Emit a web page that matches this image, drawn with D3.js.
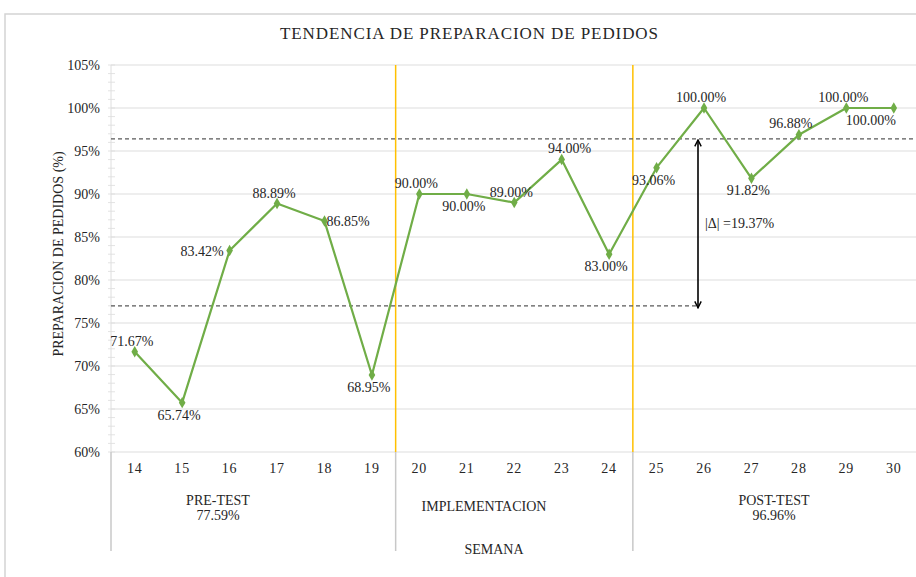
<!DOCTYPE html>
<html>
<head>
<meta http-equiv="Content-Type" content="text/html;charset=utf-8">
<script type="text/javascript" src="https://d3js.org/d3.v7.min.js"></script>
<style>
  body { margin: 0; background: #fff; }
  text { font-family: "Liberation Serif", "Times New Roman", serif; fill: #262626; }
</style>
</head>
<body>
<div id="chart"></div>
<script type="text/javascript">

// weeks and values (%)
var semanas = ["14","15","16","17","18","19","20","21","22","23","24","25","26","27","28","29","30"];
var valores = [71.67, 65.74, 83.42, 88.89, 86.85, 68.95, 90.00, 90.00, 89.00, 94.00, 83.00, 93.06, 100.00, 91.82, 96.88, 100.00, 100.00];
// where each value label sits relative to its point
var etiquetaPos = ["above","below","left","above","right","below","above","below","above","aboveright","below","below","above","below","aboveleft","above","belowleft"];

var yTicks = [60, 65, 70, 75, 80, 85, 90, 95, 100, 105];

var fases = ["PRE-TEST", "IMPLEMENTACION", "POST-TEST"];
var faseSub = ["77.59%", "", "96.96%"];
var faseInicio = [0, 6, 11];   // index of first week in phase

// reference (dashed) levels as drawn
var refAlto = 96.4;
var refBajo = 77.0;
var delta = "19.37%";

var W = 916, H = 577;
var pLeft = 111, pRight = 917.5, pTop = 65, pBottom = 452;
var fs = "14px";

var svg = d3.select("#chart").append("svg")
    .attr("width", W)
    .attr("height", H);

// outer frame
svg.append("path")
    .attr("d", "M5," + H + "V14H" + W)
    .attr("fill", "none")
    .attr("stroke", "#d4d4d4")
    .attr("stroke-width", 1.5);

var x = d3.scaleBand().domain(semanas).range([pLeft, pRight]);
var y = d3.scaleLinear().domain([60, 105]).range([pBottom, pTop]);

// minor ticks
var minor = d3.range(60, 105.01, 1);
svg.append("g").selectAll("line").data(minor).enter().append("line")
    .attr("x1", pLeft - 3).attr("x2", pLeft + 4)
    .attr("y1", function(d){ return y(d); })
    .attr("y2", function(d){ return y(d); })
    .attr("stroke", "#e3e3e3");

// gridlines
svg.append("g").selectAll("line").data(yTicks).enter().append("line")
    .attr("x1", pLeft).attr("x2", pRight)
    .attr("y1", function(d){ return y(d); })
    .attr("y2", function(d){ return y(d); })
    .attr("stroke", "#dedede")
    .attr("stroke-width", 1.2);

// y axis line
svg.append("line")
    .attr("x1", pLeft).attr("x2", pLeft)
    .attr("y1", pTop).attr("y2", pBottom)
    .attr("stroke", "#dedede");

// y tick labels
svg.append("g").selectAll("text").data(yTicks).enter().append("text")
    .attr("x", 100)
    .attr("y", function(d){ return y(d) + 5; })
    .attr("text-anchor", "end")
    .style("font-size", fs)
    .text(function(d){ return d + "%"; });

// y title
svg.append("text")
    .attr("transform", "translate(63,254) rotate(-90)")
    .attr("text-anchor", "middle")
    .style("font-size", fs)
    .text("PREPARACION DE PEDIDOS (%)");

// title
svg.append("text")
    .attr("x", 280).attr("y", 39)
    .attr("textLength", 378)
    .attr("lengthAdjust", "spacing")
    .style("font-size", "17px")
    .text("TENDENCIA DE PREPARACION DE PEDIDOS");

// phase boundaries (yellow) inside plot
var limites = faseInicio.slice(1).map(function(i){ return x(semanas[i]); });
svg.append("g").selectAll("line").data(limites).enter().append("line")
    .attr("x1", function(d){ return d; }).attr("x2", function(d){ return d; })
    .attr("y1", pTop).attr("y2", pBottom)
    .attr("stroke", "#ffc000")
    .attr("stroke-width", 1.5);

// category separators below axis
var seps = [pLeft].concat(limites);
svg.append("g").selectAll("line").data(seps).enter().append("line")
    .attr("x1", function(d){ return d; }).attr("x2", function(d){ return d; })
    .attr("y1", pBottom).attr("y2", 551)
    .attr("stroke", "#c8c8c8")
    .attr("stroke-width", 1.5);

// x tick labels
svg.append("g").selectAll("text").data(semanas).enter().append("text")
    .attr("x", function(d){ return x(d) + x.bandwidth() / 2; })
    .attr("y", 473)
    .attr("text-anchor", "middle")
    .style("font-size", fs)
    .style("letter-spacing", "0.8px")
    .text(function(d){ return d; });

// phase labels
var faseX = [218, 484, 774];
var faseY = [505, 511, 505];
fases.forEach(function(f, i){
    svg.append("text")
        .attr("x", faseX[i]).attr("y", faseY[i])
        .attr("text-anchor", "middle")
        .style("font-size", fs)
        .text(f);
    if (faseSub[i]) {
        svg.append("text")
            .attr("x", faseX[i]).attr("y", faseY[i] + 15)
            .attr("text-anchor", "middle")
            .style("font-size", fs)
            .text(faseSub[i]);
    }
});
svg.append("text")
    .attr("x", 494).attr("y", 554)
    .attr("text-anchor", "middle")
    .style("font-size", fs)
    .text("SEMANA");

// dashed reference lines
var arrowX = 698;
svg.append("line")
    .attr("x1", pLeft).attr("x2", W)
    .attr("y1", y(refAlto)).attr("y2", y(refAlto))
    .attr("stroke", "#595959").attr("stroke-width", 1.2)
    .attr("stroke-dasharray", "4,3");
svg.append("line")
    .attr("x1", pLeft).attr("x2", arrowX)
    .attr("y1", y(refBajo)).attr("y2", y(refBajo))
    .attr("stroke", "#595959").attr("stroke-width", 1.2)
    .attr("stroke-dasharray", "4,3");

// double arrow
var defs = svg.append("defs");
defs.append("marker")
    .attr("id", "ah")
    .attr("viewBox", "0 0 10 10")
    .attr("refX", 9).attr("refY", 5)
    .attr("markerWidth", 8).attr("markerHeight", 9)
    .attr("markerUnits", "userSpaceOnUse")
    .attr("orient", "auto-start-reverse")
    .append("path")
    .attr("d", "M1,1L9,5L1,9")
    .attr("fill", "none")
    .attr("stroke", "#000")
    .attr("stroke-width", 1.8);
svg.append("line")
    .attr("x1", arrowX).attr("x2", arrowX)
    .attr("y1", y(refAlto) + 1).attr("y2", y(refBajo) + 2)
    .attr("stroke", "#000").attr("stroke-width", 1.6)
    .attr("marker-start", "url(#ah)")
    .attr("marker-end", "url(#ah)");
svg.append("text")
    .attr("x", 705).attr("y", 228)
    .style("font-size", fs)
    .text("|\u0394| =" + delta);

// series
var cx = function(d, i){ return x(semanas[i]) + x.bandwidth() / 2; };
var line = d3.line()
    .x(function(d, i){ return cx(d, i); })
    .y(function(d){ return y(d); });

svg.append("path")
    .datum(valores)
    .attr("d", line)
    .attr("fill", "none")
    .attr("stroke", "#70ad47")
    .attr("stroke-width", 2.2)
    .attr("stroke-linejoin", "round");

svg.append("g").selectAll("path").data(valores).enter().append("path")
    .attr("transform", function(d, i){ return "translate(" + cx(d, i) + "," + y(d) + ")"; })
    .attr("d", d3.symbol().type(d3.symbolDiamond).size(38))
    .attr("fill", "#70ad47");

// value labels
var offs = {
    above: [-3, -6, "middle"],
    aboveright: [8, -7, "middle"],
    aboveleft: [-8, -7, "middle"],
    below: [-3, 17, "middle"],
    left: [-6, 5, "end"],
    right: [2, 5, "start"],
    belowleft: [-23, 17, "middle"]
};
svg.append("g").selectAll("text").data(valores).enter().append("text")
    .attr("x", function(d, i){ return cx(d, i) + offs[etiquetaPos[i]][0]; })
    .attr("y", function(d){ return y(d); })
    .attr("dy", function(d, i){ return offs[etiquetaPos[i]][1]; })
    .attr("text-anchor", function(d, i){ return offs[etiquetaPos[i]][2]; })
    .style("font-size", fs)
    .text(function(d){ return d.toFixed(2) + "%"; });

</script>
</body>
</html>
